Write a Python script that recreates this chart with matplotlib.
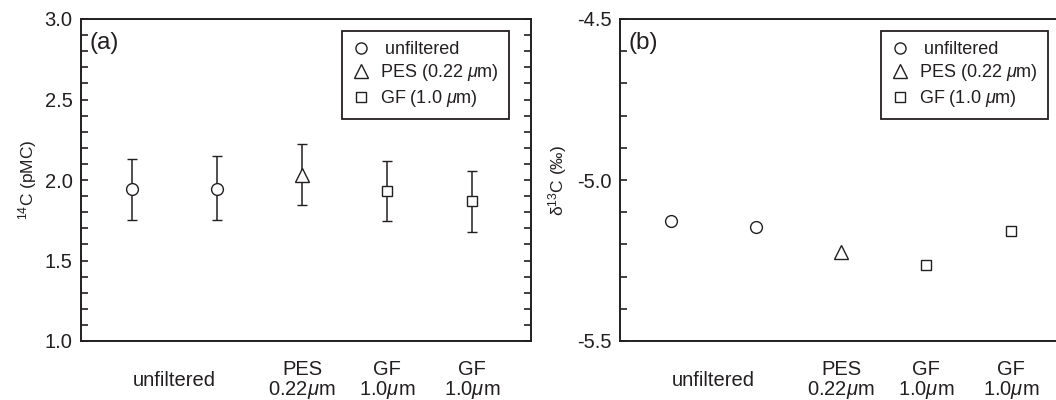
import matplotlib
matplotlib.use("Agg")
import matplotlib.pyplot as plt
from matplotlib.ticker import MultipleLocator
from matplotlib.lines import Line2D

# --- data ---
pos = [1, 2, 3, 4, 5]
kinds = ["unfiltered", "unfiltered", "PES", "GF", "GF"]
c14 = [1.944, 1.946, 2.03, 1.934, 1.87]
c14_lo = [1.752, 1.752, 1.843, 1.745, 1.679]
c14_hi = [2.132, 2.147, 2.224, 2.12, 2.056]
d13c = [-5.126, -5.147, -5.225, -5.263, -5.159]

xlab_pos = [1.5, 3, 4, 5]
xlab_txt = ["unfiltered", "PES\n0.22$\\mu$m", "GF\n1.0$\\mu$m", "GF\n1.0$\\mu$m"]

leg_labels = [" unfiltered", "PES (0.22 $\\mu$m)", "GF (1.0 $\\mu$m)"]
style = {"unfiltered": ("o", 8.5), "PES": ("^", 10), "GF": ("s", 7.5)}

ink = "#231f20"
plt.rcParams["font.family"] = "Liberation Sans"
plt.rcParams["mathtext.fontset"] = "custom"
plt.rcParams["mathtext.rm"] = "Liberation Sans"
plt.rcParams["mathtext.it"] = "Liberation Sans:italic"
plt.rcParams["mathtext.bf"] = "Liberation Sans:bold"

fig = plt.figure(figsize=(10.56, 4), dpi=100)
ax1 = fig.add_axes([0.0767, 0.1475, 0.426, 0.805])
ax2 = fig.add_axes([0.587, 0.1475, 0.426, 0.805])


def style_axes(ax, ylo, yhi, ylabel, panel):
    ax.set_xlim(0.40, 5.69)
    ax.set_ylim(ylo, yhi)
    ax.yaxis.set_major_locator(MultipleLocator(0.5))
    ax.yaxis.set_minor_locator(MultipleLocator(0.1))
    ax.tick_params(axis="y", which="both", direction="in", left=True, right=True,
                   length=5, width=1.2, color=ink, labelsize=14.5, pad=6, labelcolor=ink)
    ax.set_xticks([])
    for s in ax.spines.values():
        s.set_linewidth(1.4)
        s.set_color(ink)
    ax.set_ylabel(ylabel, fontsize=12.5, color=ink)
    ax.text(0.02, 0.96, panel, transform=ax.transAxes, fontsize=17.5,
            va="top", ha="left", color=ink)
    for x, t in zip(xlab_pos, xlab_txt):
        ax.text(x, -0.122, t, transform=ax.get_xaxis_transform(), ha="center",
                va="center", fontsize=14.5, linespacing=1.0, color=ink)
    handles = [Line2D([], [], ls="none", marker=style[k][0], markersize=style[k][1] - 0.5,
                      mfc="white", mec=ink, mew=1.0)
               for k in ["unfiltered", "PES", "GF"]]
    leg = ax.legend(handles, leg_labels, loc="upper right", bbox_to_anchor=(0.951, 0.963),
                    borderaxespad=0, fontsize=13, handlelength=1.0, handletextpad=0.55,
                    labelspacing=0.25, borderpad=0.55, fancybox=False, framealpha=1)
    leg.get_frame().set_edgecolor(ink)
    leg.get_frame().set_linewidth(1.3)
    for t in leg.get_texts():
        t.set_color(ink)


style_axes(ax1, 1.0, 3.0, "$^{14}$C (pMC)", "(a)")
style_axes(ax2, -5.5, -4.5, "δ$^{13}$C (‰)", "(b)")
ax1.yaxis.labelpad = 4
ax2.yaxis.labelpad = 6
ax1.set_yticks([1.0, 1.5, 2.0, 2.5, 3.0], labels=["1.0", "1.5", "2.0", "2.5", "3.0"])
ax2.set_yticks([-5.5, -5.0, -4.5], labels=["-5.5", "-5.0", "-4.5"])

for i in range(len(pos)):
    mk, ms = style[kinds[i]]
    ax1.errorbar(pos[i], c14[i], yerr=[[c14[i] - c14_lo[i]], [c14_hi[i] - c14[i]]],
                 fmt=mk, ms=ms, mfc="white", mec=ink, mew=1.0, ecolor=ink,
                 elinewidth=1.1, capsize=3.6, capthick=1.1, zorder=3)
    ax2.plot(pos[i], d13c[i], ls="none", marker=mk, ms=ms, mfc="white",
             mec=ink, mew=1.0, zorder=3)

fig.savefig("out.png", dpi=100)
